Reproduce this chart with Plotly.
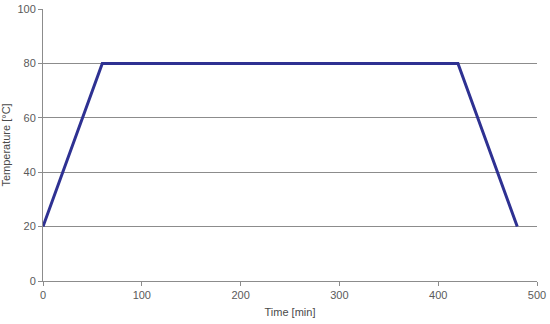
import plotly.graph_objects as go

# temperature profile: ramp up, hold, ramp down
time_min = [0, 60, 420, 480]
temp_c = [20, 80, 80, 20]

fig = go.Figure()
fig.add_trace(go.Scatter(
    x=time_min, y=temp_c, mode="lines",
    line=dict(color="#2e3192", width=3),
    showlegend=False, cliponaxis=False,
))

axis_common = dict(
    showline=True, linecolor="#8c8c8c", linewidth=1,
    ticks="outside", ticklen=4, tickcolor="#8c8c8c",
    tickfont=dict(size=11, color="#5a5a5a"),
    zeroline=False, automargin=False,
)

fig.update_layout(
    width=550, height=324,
    margin=dict(l=43, r=13, t=9, b=43, autoexpand=False),
    plot_bgcolor="white", paper_bgcolor="white",
    font=dict(family="Liberation Sans, Arial, sans-serif", color="#4a4a4a"),
    xaxis=dict(
        range=[0, 500], dtick=100, showgrid=False,
        title=dict(text="Time [min]", font=dict(size=11), standoff=8),
        **axis_common,
    ),
    yaxis=dict(
        range=[0, 100], dtick=20, showgrid=True, gridcolor="#8c8c8c", gridwidth=1,
        title=dict(text="Temperature [°C]", font=dict(size=11), standoff=4),
        **axis_common,
    ),
)

# drop the default page margin so the figure sits at the window's corner
fig.write_html(
    "out.html",
    config={"displayModeBar": False},
    post_script="document.body.style.margin = '0';",
)
